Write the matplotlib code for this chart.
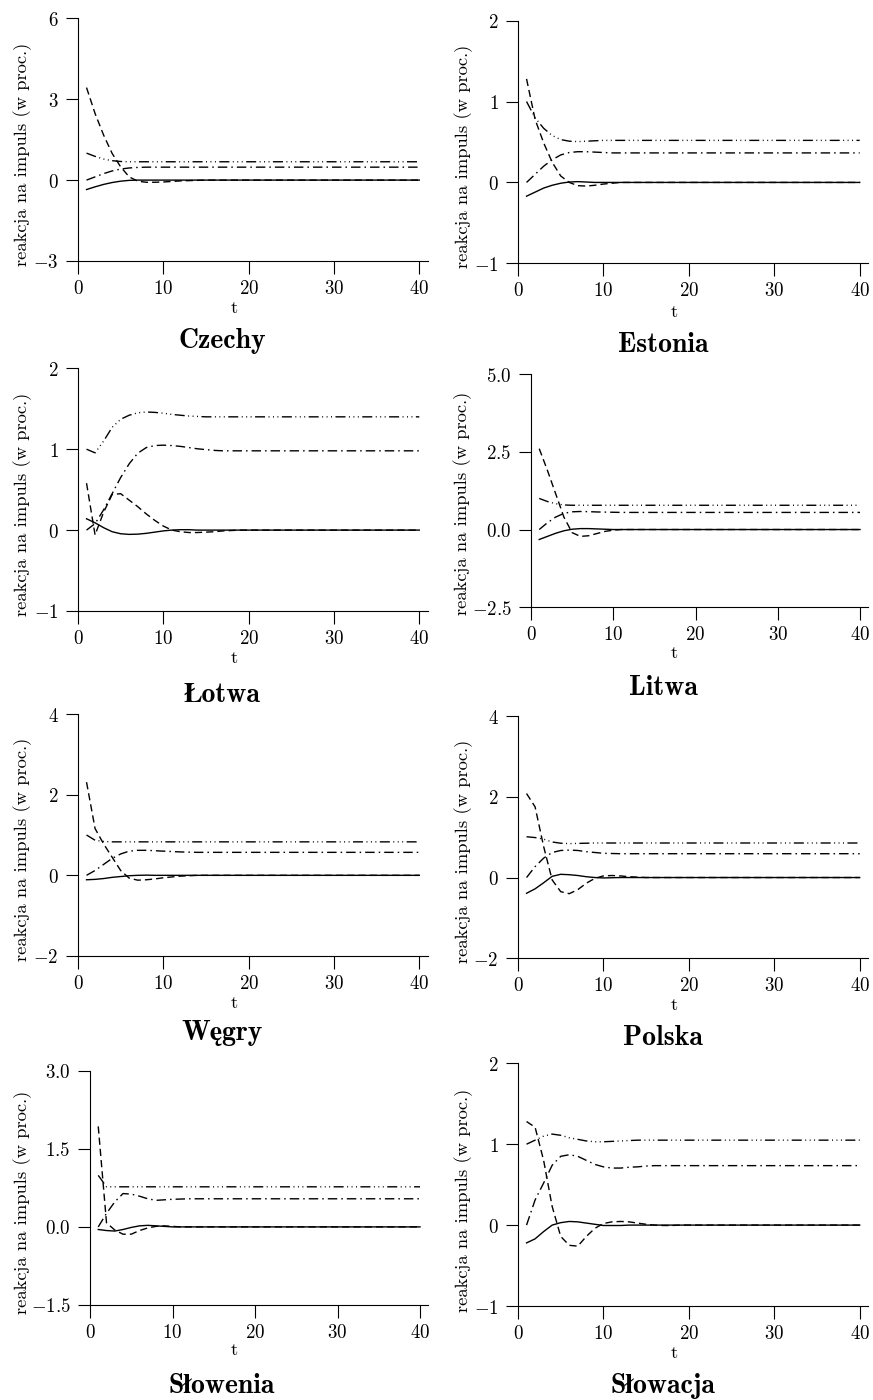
import matplotlib.pyplot as plt

plt.rcParams['mathtext.fontset'] = 'cm'
plt.rcParams['lines.scale_dashes'] = False

t = list(range(1, 41))

countries = ['Czechy', 'Estonia', 'Łotwa', 'Litwa', 'Węgry', 'Polska', 'Słowenia', 'Słowacja']

y_ticks = [
    [-3, 0, 3, 6],
    [-1, 0, 1, 2],
    [-1, 0, 1, 2],
    [-2.5, 0.0, 2.5, 5.0],
    [-2, 0, 2, 4],
    [-2, 0, 2, 4],
    [-1.5, 0.0, 1.5, 3.0],
    [-1, 0, 1, 2],
]
y_tick_labels = [
    ['-3', '0', '3', '6'],
    ['-1', '0', '1', '2'],
    ['-1', '0', '1', '2'],
    ['-2.5', '0.0', '2.5', '5.0'],
    ['-2', '0', '2', '4'],
    ['-2', '0', '2', '4'],
    ['-1.5', '0.0', '1.5', '3.0'],
    ['-1', '0', '1', '2'],
]
x_ticks = [0, 10, 20, 30, 40]

# impulse responses, t = 1..40 (solid, dashed, dash-dot, dash-dot-dot)
czechy_solid = [
    -0.35, -0.25, -0.16, -0.09, -0.04, -0.01, 0.00, 0.00, 0.00, 0.00,
    0.00, 0.00, 0.00, 0.00, 0.00, 0.00, 0.00, 0.00, 0.00, 0.00,
    0.00, 0.00, 0.00, 0.00, 0.00, 0.00, 0.00, 0.00, 0.00, 0.00,
    0.00, 0.00, 0.00, 0.00, 0.00, 0.00, 0.00, 0.00, 0.00, 0.00]
czechy_dashed = [
    3.43, 2.47, 1.67, 0.99, 0.49, 0.12, -0.04, -0.08, -0.08, -0.07,
    -0.05, -0.03, -0.02, -0.01, 0.00, 0.00, 0.00, 0.00, 0.00, 0.00,
    0.00, 0.00, 0.00, 0.00, 0.00, 0.00, 0.00, 0.00, 0.00, 0.00,
    0.00, 0.00, 0.00, 0.00, 0.00, 0.00, 0.00, 0.00, 0.00, 0.00]
czechy_dashdot = [
    0.00, 0.12, 0.24, 0.34, 0.41, 0.45, 0.47, 0.48, 0.48, 0.48,
    0.48, 0.48, 0.48, 0.48, 0.48, 0.48, 0.48, 0.48, 0.48, 0.48,
    0.48, 0.48, 0.48, 0.48, 0.48, 0.48, 0.48, 0.48, 0.48, 0.48,
    0.48, 0.48, 0.48, 0.48, 0.48, 0.48, 0.48, 0.48, 0.48, 0.48]
czechy_dashdotdot = [
    1.00, 0.88, 0.78, 0.72, 0.69, 0.68, 0.68, 0.68, 0.68, 0.68,
    0.68, 0.68, 0.68, 0.68, 0.68, 0.68, 0.68, 0.68, 0.68, 0.68,
    0.68, 0.68, 0.68, 0.68, 0.68, 0.68, 0.68, 0.68, 0.68, 0.68,
    0.68, 0.68, 0.68, 0.68, 0.68, 0.68, 0.68, 0.68, 0.68, 0.68]

estonia_solid = [
    -0.17, -0.12, -0.07, -0.035, -0.01, 0.005, 0.01, 0.005, 0.00, 0.00,
    0.00, 0.00, 0.00, 0.00, 0.00, 0.00, 0.00, 0.00, 0.00, 0.00,
    0.00, 0.00, 0.00, 0.00, 0.00, 0.00, 0.00, 0.00, 0.00, 0.00,
    0.00, 0.00, 0.00, 0.00, 0.00, 0.00, 0.00, 0.00, 0.00, 0.00]
estonia_dashed = [
    1.28, 0.78, 0.49, 0.25, 0.08, 0.00, -0.04, -0.045, -0.035, -0.02,
    -0.01, 0.00, 0.00, 0.00, 0.00, 0.00, 0.00, 0.00, 0.00, 0.00,
    0.00, 0.00, 0.00, 0.00, 0.00, 0.00, 0.00, 0.00, 0.00, 0.00,
    0.00, 0.00, 0.00, 0.00, 0.00, 0.00, 0.00, 0.00, 0.00, 0.00]
estonia_dashdot = [
    0.00, 0.10, 0.20, 0.28, 0.34, 0.37, 0.38, 0.38, 0.375, 0.37,
    0.365, 0.365, 0.365, 0.365, 0.365, 0.365, 0.365, 0.365, 0.365, 0.365,
    0.365, 0.365, 0.365, 0.365, 0.365, 0.365, 0.365, 0.365, 0.365, 0.365,
    0.365, 0.365, 0.365, 0.365, 0.365, 0.365, 0.365, 0.365, 0.365, 0.365]
estonia_dashdotdot = [
    1.00, 0.80, 0.67, 0.58, 0.53, 0.51, 0.505, 0.51, 0.515, 0.52,
    0.52, 0.52, 0.52, 0.52, 0.52, 0.52, 0.52, 0.52, 0.52, 0.52,
    0.52, 0.52, 0.52, 0.52, 0.52, 0.52, 0.52, 0.52, 0.52, 0.52,
    0.52, 0.52, 0.52, 0.52, 0.52, 0.52, 0.52, 0.52, 0.52, 0.52]

lotwa_solid = [
    0.14, 0.09, 0.03, -0.02, -0.045, -0.053, -0.05, -0.04, -0.025, -0.01,
    0.00, 0.005, 0.005, 0.00, 0.00, 0.00, 0.00, 0.00, 0.00, 0.00,
    0.00, 0.00, 0.00, 0.00, 0.00, 0.00, 0.00, 0.00, 0.00, 0.00,
    0.00, 0.00, 0.00, 0.00, 0.00, 0.00, 0.00, 0.00, 0.00, 0.00]
lotwa_dashed = [
    0.58, -0.06, 0.22, 0.44, 0.45, 0.37, 0.29, 0.20, 0.12, 0.05,
    0.00, -0.02, -0.03, -0.03, -0.025, -0.02, -0.01, -0.005, 0.00, 0.00,
    0.00, 0.00, 0.00, 0.00, 0.00, 0.00, 0.00, 0.00, 0.00, 0.00,
    0.00, 0.00, 0.00, 0.00, 0.00, 0.00, 0.00, 0.00, 0.00, 0.00]
lotwa_dashdot = [
    0.00, 0.08, 0.25, 0.45, 0.65, 0.82, 0.95, 1.02, 1.045, 1.05,
    1.045, 1.035, 1.02, 1.005, 0.995, 0.985, 0.98, 0.98, 0.98, 0.98,
    0.98, 0.98, 0.98, 0.98, 0.98, 0.98, 0.98, 0.98, 0.98, 0.98,
    0.98, 0.98, 0.98, 0.98, 0.98, 0.98, 0.98, 0.98, 0.98, 0.98]
lotwa_dashdotdot = [
    1.00, 0.955, 1.10, 1.27, 1.37, 1.42, 1.45, 1.46, 1.455, 1.445,
    1.43, 1.42, 1.41, 1.405, 1.40, 1.40, 1.40, 1.40, 1.40, 1.40,
    1.40, 1.40, 1.40, 1.40, 1.40, 1.40, 1.40, 1.40, 1.40, 1.40,
    1.40, 1.40, 1.40, 1.40, 1.40, 1.40, 1.40, 1.40, 1.40, 1.40]

litwa_solid = [
    -0.32, -0.22, -0.12, -0.04, 0.01, 0.03, 0.03, 0.02, 0.01, 0.00,
    0.00, 0.00, 0.00, 0.00, 0.00, 0.00, 0.00, 0.00, 0.00, 0.00,
    0.00, 0.00, 0.00, 0.00, 0.00, 0.00, 0.00, 0.00, 0.00, 0.00,
    0.00, 0.00, 0.00, 0.00, 0.00, 0.00, 0.00, 0.00, 0.00, 0.00]
litwa_dashed = [
    2.60, 1.90, 1.15, 0.40, -0.10, -0.22, -0.20, -0.13, -0.06, -0.02,
    0.00, 0.00, 0.00, 0.00, 0.00, 0.00, 0.00, 0.00, 0.00, 0.00,
    0.00, 0.00, 0.00, 0.00, 0.00, 0.00, 0.00, 0.00, 0.00, 0.00,
    0.00, 0.00, 0.00, 0.00, 0.00, 0.00, 0.00, 0.00, 0.00, 0.00]
litwa_dashdot = [
    0.00, 0.22, 0.40, 0.52, 0.57, 0.58, 0.575, 0.565, 0.56, 0.555,
    0.55, 0.55, 0.55, 0.55, 0.55, 0.55, 0.55, 0.55, 0.55, 0.55,
    0.55, 0.55, 0.55, 0.55, 0.55, 0.55, 0.55, 0.55, 0.55, 0.55,
    0.55, 0.55, 0.55, 0.55, 0.55, 0.55, 0.55, 0.55, 0.55, 0.55]
litwa_dashdotdot = [
    1.00, 0.90, 0.83, 0.79, 0.78, 0.78, 0.78, 0.78, 0.78, 0.78,
    0.78, 0.78, 0.78, 0.78, 0.78, 0.78, 0.78, 0.78, 0.78, 0.78,
    0.78, 0.78, 0.78, 0.78, 0.78, 0.78, 0.78, 0.78, 0.78, 0.78,
    0.78, 0.78, 0.78, 0.78, 0.78, 0.78, 0.78, 0.78, 0.78, 0.78]

wegry_solid = [
    -0.11, -0.10, -0.08, -0.05, -0.03, -0.01, 0.00, 0.005, 0.00, 0.00,
    0.00, 0.00, 0.00, 0.00, 0.00, 0.00, 0.00, 0.00, 0.00, 0.00,
    0.00, 0.00, 0.00, 0.00, 0.00, 0.00, 0.00, 0.00, 0.00, 0.00,
    0.00, 0.00, 0.00, 0.00, 0.00, 0.00, 0.00, 0.00, 0.00, 0.00]
wegry_dashed = [
    2.31, 1.16, 0.78, 0.45, 0.12, -0.07, -0.12, -0.11, -0.09, -0.06,
    -0.04, -0.02, -0.01, 0.00, 0.00, 0.00, 0.00, 0.00, 0.00, 0.00,
    0.00, 0.00, 0.00, 0.00, 0.00, 0.00, 0.00, 0.00, 0.00, 0.00,
    0.00, 0.00, 0.00, 0.00, 0.00, 0.00, 0.00, 0.00, 0.00, 0.00]
wegry_dashdot = [
    0.00, 0.12, 0.27, 0.42, 0.53, 0.60, 0.62, 0.62, 0.61, 0.60,
    0.59, 0.58, 0.575, 0.57, 0.57, 0.57, 0.57, 0.57, 0.57, 0.57,
    0.57, 0.57, 0.57, 0.57, 0.57, 0.57, 0.57, 0.57, 0.57, 0.57,
    0.57, 0.57, 0.57, 0.57, 0.57, 0.57, 0.57, 0.57, 0.57, 0.57]
wegry_dashdotdot = [
    1.00, 0.87, 0.84, 0.83, 0.83, 0.83, 0.83, 0.83, 0.83, 0.83,
    0.83, 0.83, 0.83, 0.83, 0.83, 0.83, 0.83, 0.83, 0.83, 0.83,
    0.83, 0.83, 0.83, 0.83, 0.83, 0.83, 0.83, 0.83, 0.83, 0.83,
    0.83, 0.83, 0.83, 0.83, 0.83, 0.83, 0.83, 0.83, 0.83, 0.83]

polska_solid = [
    -0.39, -0.28, -0.13, 0.03, 0.08, 0.07, 0.05, 0.02, 0.00, -0.01,
    -0.005, 0.00, 0.00, 0.00, 0.00, 0.00, 0.00, 0.00, 0.00, 0.00,
    0.00, 0.00, 0.00, 0.00, 0.00, 0.00, 0.00, 0.00, 0.00, 0.00,
    0.00, 0.00, 0.00, 0.00, 0.00, 0.00, 0.00, 0.00, 0.00, 0.00]
polska_dashed = [
    2.08, 1.75, 0.77, -0.06, -0.35, -0.40, -0.30, -0.14, -0.02, 0.04,
    0.05, 0.04, 0.02, 0.01, 0.00, 0.00, 0.00, 0.00, 0.00, 0.00,
    0.00, 0.00, 0.00, 0.00, 0.00, 0.00, 0.00, 0.00, 0.00, 0.00,
    0.00, 0.00, 0.00, 0.00, 0.00, 0.00, 0.00, 0.00, 0.00, 0.00]
polska_dashdot = [
    0.00, 0.27, 0.48, 0.62, 0.67, 0.68, 0.67, 0.64, 0.62, 0.60,
    0.595, 0.59, 0.59, 0.59, 0.59, 0.59, 0.59, 0.59, 0.59, 0.59,
    0.59, 0.59, 0.59, 0.59, 0.59, 0.59, 0.59, 0.59, 0.59, 0.59,
    0.59, 0.59, 0.59, 0.59, 0.59, 0.59, 0.59, 0.59, 0.59, 0.59]
polska_dashdotdot = [
    1.01, 0.99, 0.95, 0.88, 0.85, 0.84, 0.845, 0.85, 0.855, 0.855,
    0.855, 0.855, 0.855, 0.855, 0.855, 0.855, 0.855, 0.855, 0.855, 0.855,
    0.855, 0.855, 0.855, 0.855, 0.855, 0.855, 0.855, 0.855, 0.855, 0.855,
    0.855, 0.855, 0.855, 0.855, 0.855, 0.855, 0.855, 0.855, 0.855, 0.855]

slowenia_solid = [
    -0.05, -0.07, -0.08, -0.05, -0.01, 0.02, 0.03, 0.02, 0.01, 0.00,
    0.00, 0.00, 0.00, 0.00, 0.00, 0.00, 0.00, 0.00, 0.00, 0.00,
    0.00, 0.00, 0.00, 0.00, 0.00, 0.00, 0.00, 0.00, 0.00, 0.00,
    0.00, 0.00, 0.00, 0.00, 0.00, 0.00, 0.00, 0.00, 0.00, 0.00]
slowenia_dashed = [
    1.93, 0.08, -0.06, -0.14, -0.14, -0.07, -0.02, 0.01, 0.02, 0.01,
    0.00, 0.00, 0.00, 0.00, 0.00, 0.00, 0.00, 0.00, 0.00, 0.00,
    0.00, 0.00, 0.00, 0.00, 0.00, 0.00, 0.00, 0.00, 0.00, 0.00,
    0.00, 0.00, 0.00, 0.00, 0.00, 0.00, 0.00, 0.00, 0.00, 0.00]
slowenia_dashdot = [
    0.00, 0.26, 0.48, 0.64, 0.63, 0.59, 0.54, 0.51, 0.52, 0.53,
    0.535, 0.54, 0.54, 0.54, 0.54, 0.54, 0.54, 0.54, 0.54, 0.54,
    0.54, 0.54, 0.54, 0.54, 0.54, 0.54, 0.54, 0.54, 0.54, 0.54,
    0.54, 0.54, 0.54, 0.54, 0.54, 0.54, 0.54, 0.54, 0.54, 0.54]
slowenia_dashdotdot = [
    0.99, 0.77, 0.77, 0.77, 0.77, 0.77, 0.77, 0.77, 0.77, 0.77,
    0.77, 0.77, 0.77, 0.77, 0.77, 0.77, 0.77, 0.77, 0.77, 0.77,
    0.77, 0.77, 0.77, 0.77, 0.77, 0.77, 0.77, 0.77, 0.77, 0.77,
    0.77, 0.77, 0.77, 0.77, 0.77, 0.77, 0.77, 0.77, 0.77, 0.77]

slowacja_solid = [
    -0.22, -0.17, -0.08, 0.00, 0.03, 0.045, 0.04, 0.025, 0.01, -0.005,
    -0.005, -0.005, 0.00, 0.00, 0.00, 0.00, 0.00, 0.00, 0.00, 0.00,
    0.00, 0.00, 0.00, 0.00, 0.00, 0.00, 0.00, 0.00, 0.00, 0.00,
    0.00, 0.00, 0.00, 0.00, 0.00, 0.00, 0.00, 0.00, 0.00, 0.00]
slowacja_dashed = [
    1.28, 1.21, 0.80, 0.23, -0.14, -0.25, -0.26, -0.14, -0.04, 0.02,
    0.04, 0.045, 0.04, 0.025, 0.01, 0.00, -0.005, -0.005, 0.00, 0.00,
    0.00, 0.00, 0.00, 0.00, 0.00, 0.00, 0.00, 0.00, 0.00, 0.00,
    0.00, 0.00, 0.00, 0.00, 0.00, 0.00, 0.00, 0.00, 0.00, 0.00]
slowacja_dashdot = [
    0.00, 0.31, 0.52, 0.74, 0.85, 0.87, 0.85, 0.80, 0.75, 0.72,
    0.705, 0.705, 0.715, 0.72, 0.73, 0.735, 0.735, 0.735, 0.735, 0.735,
    0.735, 0.735, 0.735, 0.735, 0.735, 0.735, 0.735, 0.735, 0.735, 0.735,
    0.735, 0.735, 0.735, 0.735, 0.735, 0.735, 0.735, 0.735, 0.735, 0.735]
slowacja_dashdotdot = [
    1.00, 1.05, 1.10, 1.125, 1.11, 1.08, 1.06, 1.04, 1.03, 1.03,
    1.035, 1.04, 1.045, 1.05, 1.05, 1.05, 1.05, 1.05, 1.05, 1.05,
    1.05, 1.05, 1.05, 1.05, 1.05, 1.05, 1.05, 1.05, 1.05, 1.05,
    1.05, 1.05, 1.05, 1.05, 1.05, 1.05, 1.05, 1.05, 1.05, 1.05]

series = [
    (czechy_solid, czechy_dashed, czechy_dashdot, czechy_dashdotdot),
    (estonia_solid, estonia_dashed, estonia_dashdot, estonia_dashdotdot),
    (lotwa_solid, lotwa_dashed, lotwa_dashdot, lotwa_dashdotdot),
    (litwa_solid, litwa_dashed, litwa_dashdot, litwa_dashdotdot),
    (wegry_solid, wegry_dashed, wegry_dashdot, wegry_dashdotdot),
    (polska_solid, polska_dashed, polska_dashdot, polska_dashdotdot),
    (slowenia_solid, slowenia_dashed, slowenia_dashdot, slowenia_dashdotdot),
    (slowacja_solid, slowacja_dashed, slowacja_dashdot, slowacja_dashdotdot),
]

line_styles = [
    dict(linestyle='-'),
    dict(dashes=(5.2, 2.9)),
    dict(dashes=(6.8, 2.9, 1.1, 2.9)),
    dict(dashes=(7.2, 2.5, 0.7, 2.5, 0.7, 2.5, 0.7, 2.5)),
]

# pixel layout of each panel:
# x of t=0, x of t=40, y of top tick, y of bottom tick,
# y-label centre, "t" baseline, title centre x / baseline
W, H = 873, 1400
layout = [
    (78, 419.3, 18.3, 261.0, 23, 154, 234, 313, 222, 348),
    (518, 859.7, 20.7, 263.3, 464, 156, 674, 317, 663, 352),
    (78, 419.3, 368.3, 611.0, 23, 504, 234, 663, 222, 702),
    (531, 860.0, 374.0, 607.3, 463, 503, 674, 658, 663, 695),
    (78, 419.3, 714.0, 956.0, 23, 849, 234, 1008, 222, 1040),
    (518, 859.7, 716.0, 958.3, 464, 851, 674, 1010, 663, 1045),
    (90, 420.0, 1070.7, 1305.0, 23, 1202, 234, 1355, 222, 1393),
    (518, 859.7, 1063.3, 1306.0, 464, 1200, 674, 1358, 663, 1393),
]

fig = plt.figure(figsize=(W / 100, H / 100), dpi=100)

for i, name in enumerate(countries):
    x0, x40, ytop, ybot, ylx, yly, tx, ty, ttx, tty = layout[i]
    width = (x40 - x0) * 41 / 40
    ax = fig.add_axes([x0 / W, 1 - ybot / H, width / W, (ybot - ytop) / H])

    for values, style in zip(series[i], line_styles):
        ax.plot(t, values, color='black', lw=1.0, **style)

    ax.set_xlim(0, 41)
    ax.set_ylim(y_ticks[i][0], y_ticks[i][-1])
    ax.set_xticks(x_ticks)
    ax.set_xticklabels(['$%d$' % v for v in x_ticks], fontsize=13.6)
    ax.set_yticks(y_ticks[i])
    ax.set_yticklabels(['$%s$' % s for s in y_tick_labels[i]], fontsize=13.6)

    for side in ['top', 'right']:
        ax.spines[side].set_visible(False)
    for side in ['left', 'bottom']:
        ax.spines[side].set_linewidth(0.8)
    ax.tick_params(axis='both', direction='out', length=9, width=0.8)
    ax.tick_params(axis='y', pad=5)
    ax.tick_params(axis='x', pad=4)

    fig.text(ylx / W, 1 - yly / H, 'reakcja na impuls (w proc.)', rotation=90,
             ha='center', va='center', fontsize=13.4, family='cmr10')
    fig.text(tx / W, 1 - ty / H, 't', ha='center', va='baseline',
             fontsize=13.4, family='cmr10')
    fig.text(ttx / W, 1 - tty / H, name, ha='center', va='baseline',
             fontsize=20, family=['cmb10', 'STIXGeneral'], weight='bold')

fig.savefig('out.png', dpi=100)
